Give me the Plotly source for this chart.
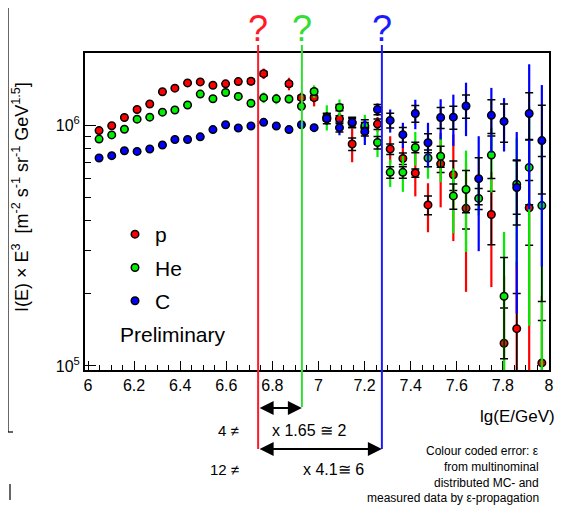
import plotly.graph_objects as go

# ---------------- data ----------------
lgE = [6.048, 6.103, 6.158, 6.213, 6.268, 6.323, 6.377, 6.432, 6.487, 6.542,
       6.597, 6.652, 6.707, 6.762, 6.817, 6.872, 6.926, 6.981, 7.036, 7.091,
       7.146, 7.201, 7.256, 7.311, 7.366, 7.420, 7.475, 7.530, 7.585, 7.640,
       7.695, 7.750, 7.805, 7.860, 7.914, 7.969]

flux_p = [948e3, 993e3, 1075e3, 1160e3, 1223e3, 1374e3, 1422e3, 1496e3, 1510e3, 1463e3,
          1482e3, 1515e3, 1519e3, 1634e3, None, 1482e3, 1299e3, 1299e3, 1060e3, 1061e3,
          834e3, 975e3, 1009e3, 795e3, 726e3, 632e3, 466e3, 690e3, 622e3, 451e3,
          None, 425e3, 124.2e3, 142.8e3, 453e3, 102.9e3]
flux_he = [874e3, 910e3, 960e3, 1058e3, 1078e3, 1131e3, 1155e3, 1211e3, 1344e3, 1286e3,
           1365e3, 1315e3, 1231e3, 1299e3, 1284e3, 1282e3, 1196e3, 1378e3, 1078e3, 1182e3,
           1020e3, 993e3, 846e3, 636e3, 636e3, 807e3, 730e3, 742e3, 508e3, 540e3,
           496e3, 750e3, 194.6e3, 568e3, 667e3, 463e3]
flux_c = [730e3, 746e3, 782e3, 777e3, 795e3, 826e3, 871e3, 871e3, 893e3, 957e3,
          1003e3, 972e3, 991e3, 1026e3, 991e3, 957e3, 1003e3, 975e3, 1065e3, 975e3,
          1026e3, 939e3, 1160e3, 1045e3, 912e3, 1117e3, 844e3, 1075e3, 1078e3, 1199e3,
          599e3, 1097e3, 1035e3, 550e3, 1117e3, 862e3]

# relative errors: black = statistical, colour = colour coded error (epsilon)
rel_black_p = [0]*12 + [0.02, 0.02, 0, 0.02, 0.02, 0.02, 0.02, 0.03,
                        0.06, 0.05, 0.05, 0.05, 0.055, 0.04, 0.09, 0.08, 0.14, 0.18,
                        0, 0.25, 0.4, 0.4, 0.3, 0.5]
rel_col_p = [0.02]*12 + [0.04, 0.05, 0, 0.06, 0.05, 0.08, 0.05, 0.06,
                         0.16, 0.08, 0.07, 0.13, 0.12, 0.2, 0.23, 0.34, 0.47, 0.55,
                         0, 0.5, 0.9, 0.9, 0.9, 0.9]
rel_black_he = [0]*17 + [0.02, 0.03, 0.03, 0.04, 0.06, 0.06, 0.055, 0.055, 0.05,
                         0.08, 0.1, 0.12, 0.2, 0.1, 0.2, 0.45, 0.25, 0.3, 0.6]
rel_col_he = [0.02]*13 + [0.05, 0.05, 0.04, 0.04, 0.06, 0.12, 0.08, 0.05, 0.11,
                          0.13, 0.13, 0.17, 0.16, 0.18, 0.22, 0.3, 0.45, 0.15, 0.3,
                          0.85, 0.55, 0.78, 0.9]
rel_black_c = [0]*18 + [0.05, 0.04, 0.05, 0.04, 0.05, 0.07, 0.07, 0.08, 0.09, 0.1,
                        0.11, 0.11, 0.22, 0.16, 0.18, 0.3, 0.22, 0.4]
rel_col_c = [0.015]*13 + [0.02]*5 + [0.06, 0.07, 0.05, 0.12, 0.06, 0.11, 0.12, 0.14,
                                     0.21, 0.19, 0.24, 0.25, 0.5, 0.3, 0.25, 0.7, 0.6, 0.7]

species = ["p", "He", "C"]
cut_positions = [6.738, 6.928, 7.275]   # lg(E/GeV) of the knee candidates

# ---------------- styling ----------------
FONT = "Liberation Sans, Arial, Helvetica, sans-serif"
mk_col = {"p": "#ff0000", "He": "#00ee00", "C": "#0000ff"}
line_col = ["#ff1a2a", "#33dd33", "#1a1aff"]

OFF = 8                      # page margin of the html body
W, H = 567 - OFF, 509 - OFF
L, T = 85 - OFF, 53 - OFF    # plot frame in window pixels: x 85..549, y 53..370
R = W - (549 - OFF)
B = H - (370 - OFF)
PW, PH = W - L - R, H - T - B


def px(xpix):
    return (xpix - OFF - L) / PW


def py(ypix):
    return (H - B - (ypix - OFF)) / PH


fig = go.Figure()

series = [
    ("p", flux_p, rel_black_p, rel_col_p),
    ("He", flux_he, rel_black_he, rel_col_he),
    ("C", flux_c, rel_black_c, rel_col_c),
]

for name, vals, rb, rc in series:
    col_err = [v * r if v is not None else 0 for v, r in zip(vals, rc)]
    blk_err = [v * r if v is not None else 0 for v, r in zip(vals, rb)]
    fig.add_trace(go.Scatter(
        x=lgE, y=vals, mode="markers", showlegend=False, hoverinfo="skip",
        legendgroup=name,
        marker=dict(size=2, color="rgba(0,0,0,0)"),
        error_y=dict(type="data", array=col_err, symmetric=True,
                     color=mk_col[name], thickness=2.2, width=0),
    ))
    fig.add_trace(go.Scatter(
        x=lgE, y=vals, mode="markers", name=name, legendgroup=name,
        marker=dict(size=7.5, color=mk_col[name], line=dict(color="black", width=1.5)),
        error_y=dict(type="data", array=blk_err, symmetric=True,
                     color="black", thickness=1.5, width=4),
    ))

# vertical cut lines
line_bottoms = [449, 407, 449]
for xc, c, yb in zip(cut_positions, line_col, line_bottoms):
    fig.add_shape(type="line", xref="x", yref="paper", x0=xc, x1=xc,
                  y0=py(yb), y1=py(45), line=dict(color=c, width=2))
    fig.add_annotation(x=xc, y=py(51), xref="x", yref="paper", text="?",
                       showarrow=False, yanchor="bottom",
                       font=dict(family=FONT, size=36, color=c))

# double arrows
for x_end, ypix in [(cut_positions[1], 408), (cut_positions[2], 449)]:
    fig.add_annotation(x=x_end, y=py(ypix), xref="x", yref="paper",
                       ax=cut_positions[0], ay=0, axref="x", ayref="pixel",
                       text="", showarrow=True, arrowhead=2, startarrowhead=2,
                       arrowside="end+start", arrowsize=1.4, startarrowsize=1.4,
                       arrowwidth=2, arrowcolor="black")

texts = [
    ("4 \u2260", 241, 430, "right", 15),
    ("12 \u2260", 241, 469, "right", 15),
    ("x 1.65 \u2245 2", 309, 430, "center", 16),
    ("x 4.1\u2245 6", 333, 469, "center", 16),
    ("lg(E/GeV)", 557, 416, "right", 17),
    ("Colour coded error: \u03b5", 541, 451, "right", 12),
    ("from multinominal", 541, 467, "right", 12),
    ("distributed MC- and", 541, 483, "right", 12),
    ("measured data by \u03b5-propagation", 541, 498, "right", 12),
    ("Preliminary", 173, 334, "center", 21),
]
for t, xp, yp, anc, fs in texts:
    fig.add_annotation(x=px(xp), y=py(yp), xref="paper", yref="paper", text=t,
                       showarrow=False, xanchor=anc, yanchor="middle",
                       font=dict(family=FONT, size=fs, color="black"))

# y axis title
fig.add_annotation(x=px(21), y=py(197), xref="paper", yref="paper",
                   xanchor="center", yanchor="middle",
                   text="I(E) \u00d7 E<sup>3</sup>  [m<sup>-2</sup> s<sup>-1</sup> sr<sup>-1</sup> GeV<sup>1.5</sup>]",
                   textangle=-90, showarrow=False,
                   font=dict(family=FONT, size=18, color="black"))

# page border fragments on the left
for x0, y0, x1, y1 in [(8, 8, 8, 432), (8, 432, 13, 432), (10, 484, 10, 500)]:
    fig.add_shape(type="line", xref="paper", yref="paper",
                  x0=px(x0), x1=px(x1), y0=py(y0), y1=py(y1),
                  line=dict(color="black", width=1.2))

fig.update_layout(
    width=W, height=H,
    margin=dict(l=L, r=R, t=T, b=B, pad=0),
    paper_bgcolor="white", plot_bgcolor="white",
    font=dict(family=FONT, size=16, color="black"),
    showlegend=True,
    legend=dict(x=px(115), y=py(214), xanchor="left", yanchor="top",
                bgcolor="rgba(0,0,0,0)", font=dict(family=FONT, size=21),
                itemsizing="trace", tracegroupgap=3, traceorder="grouped"),
    xaxis=dict(range=[5.987, 8.0], showgrid=False, zeroline=False,
               showline=True, mirror=True, linecolor="black", linewidth=2,
               ticks="inside", ticklen=9, tickwidth=1.3, tickcolor="black",
               tickvals=[6, 6.2, 6.4, 6.6, 6.8, 7, 7.2, 7.4, 7.6, 7.8, 8],
               ticktext=["6", "6.2", "6.4", "6.6", "6.8", "7", "7.2", "7.4", "7.6", "7.8", "8"],
               tickfont=dict(family=FONT, size=16),
               minor=dict(dtick=0.05, tick0=6, ticks="inside", ticklen=5,
                          tickwidth=1.2, tickcolor="black", showgrid=False)),
    yaxis=dict(type="log", range=[4.983, 6.299], showgrid=False, zeroline=False,
               showline=True, mirror=True, linecolor="black", linewidth=2,
               ticks="inside", ticklen=11, tickwidth=1.3, tickcolor="black",
               tickvals=[1e5, 1e6], ticktext=["10<sup>5</sup>", "10<sup>6</sup>"],
               tickfont=dict(family=FONT, size=16),
               minor=dict(tickvals=[2e5, 3e5, 4e5, 5e5, 6e5, 7e5, 8e5, 9e5, 2e6],
                          ticks="inside", ticklen=6, tickwidth=1.2,
                          tickcolor="black", showgrid=False)),
)

fig.write_html("out.html")
